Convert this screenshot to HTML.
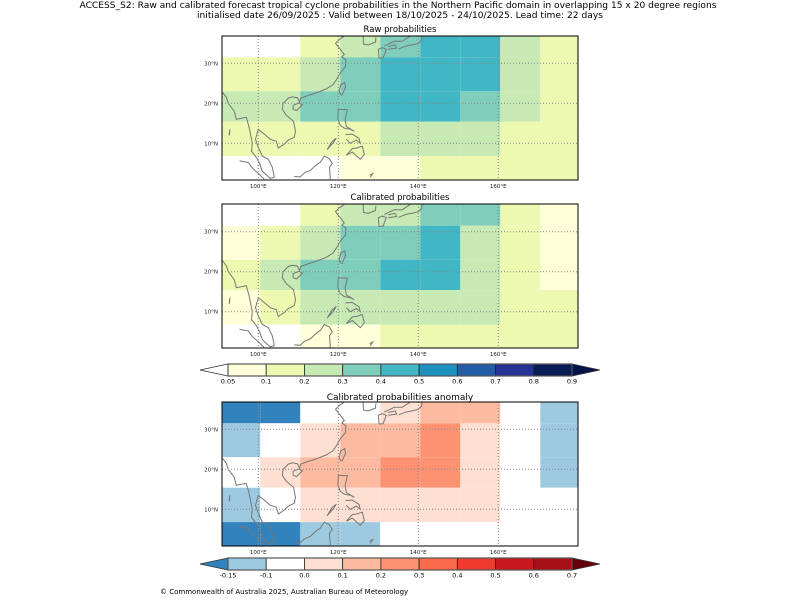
<!DOCTYPE html>
<html><head><meta charset="utf-8"><style>
html,body{margin:0;padding:0;background:#fff;}
svg{display:block;font-family:"DejaVu Sans","Liberation Sans",sans-serif;}
</style></head><body>
<svg id="fig" width="800" height="600" viewBox="0 0 800 600">
<text x="398" y="8" font-size="9" text-anchor="middle" textLength="637" lengthAdjust="spacingAndGlyphs">ACCESS_S2: Raw and calibrated forecast tropical cyclone probabilities in the Northern Pacific domain in overlapping 15 x 20 degree regions</text>
<text x="400" y="18" font-size="9" text-anchor="middle" textLength="406" lengthAdjust="spacingAndGlyphs">initialised date 26/09/2025 :  Valid between 18/10/2025 - 24/10/2025. Lead time: 22 days</text>
<text x="160" y="594" font-size="7">© Commonwealth of Australia 2025, Australian Bureau of Meteorology</text>
<defs>
<clipPath id="c1"><rect x="222" y="36" width="356" height="144"/></clipPath>
<clipPath id="c2"><rect x="222" y="204" width="356" height="144"/></clipPath>
<clipPath id="c3"><rect x="222" y="402" width="356" height="144"/></clipPath>
</defs>
</svg>
<script>
const lonEdges=[91,100.5,110.5,120.5,130.5,140.5,150.5,160.5,170.5,180];
const latEdges=[37,31.5,23,15.4,6.8,0];
const rawValues=[
[0.03,0.03,0.15,0.25,0.35,0.45,0.45,0.25,0.15],
[0.15,0.15,0.25,0.35,0.45,0.45,0.45,0.25,0.15],
[0.25,0.25,0.35,0.35,0.45,0.45,0.35,0.25,0.15],
[0.15,0.15,0.15,0.15,0.25,0.25,0.25,0.15,0.15],
[0.03,0.03,0.03,0.07,0.07,0.15,0.15,0.15,0.15]];
const calValues=[
[0.03,0.03,0.15,0.25,0.25,0.35,0.35,0.15,0.07],
[0.07,0.15,0.25,0.35,0.35,0.45,0.25,0.15,0.07],
[0.15,0.25,0.35,0.35,0.45,0.45,0.25,0.15,0.07],
[0.07,0.15,0.25,0.25,0.25,0.25,0.25,0.15,0.15],
[0.03,0.03,0.07,0.07,0.15,0.15,0.15,0.15,0.15]];
const anomValues=[
[-0.2,-0.2,-0.05,-0.05,0.05,0.15,0.15,-0.05,-0.12],
[-0.12,-0.05,0.05,0.15,0.15,0.25,0.05,-0.05,-0.12],
[-0.05,0.05,0.15,0.15,0.25,0.25,0.05,-0.05,-0.12],
[-0.12,-0.05,0.05,0.05,0.05,0.05,0.05,-0.05,-0.05],
[-0.2,-0.2,-0.12,-0.12,-0.05,-0.05,-0.05,-0.05,-0.05]];
const probLevels=[0.05,0.1,0.2,0.3,0.4,0.5,0.6,0.7,0.8,0.9];
const probLabels=["0.05","0.1","0.2","0.3","0.4","0.5","0.6","0.7","0.8","0.9"];
const probColors=["#ffffff","#ffffd9","#edf8b1","#c7e9b4","#7fcdbb","#41b6c4","#1d91c0","#225ea8","#253494","#081d58","#04124a"];
const anomLevels=[-0.15,-0.1,0,0.1,0.2,0.3,0.4,0.5,0.6,0.7];
const anomLabels=["-0.15","-0.1","0.0","0.1","0.2","0.3","0.4","0.5","0.6","0.7"];
const anomColors=["#3182bd","#9ecae1","#ffffff","#fee0d2","#fcbba1","#fc9272","#fb6a4a","#ef3b2c","#cb181d","#a50f15","#67000d"];
const lonTicks=[100,120,140,160];
const latTicks=[10,20,30];

const svg=document.getElementById('fig');
const NS='http://www.w3.org/2000/svg';
function mk(tag,attrs,parent){const e=document.createElementNS(NS,tag);for(const k in attrs)e.setAttribute(k,attrs[k]);(parent||svg).appendChild(e);return e;}
function colorFor(v,levels,colors){let i=0;while(i<levels.length&&v>=levels[i])i++;return colors[i];}

// rough coastline (lon,lat) — decorative map outline
const coastLines=[
[[91,22.8],[92,21.5],[92.5,20],[94,18],[94.5,16],[97,16.5],[97.7,14],[98.5,10],[98.3,8],[99.5,6.5],[100.3,5],[101,3],[103,1.2],[104,1.5],[103.5,4],[102.5,6],[101,6.8],[100,9],[99.3,11],[100,13.5],[101,12.7],[103,11],[104.5,10.5],[105,8.8],[106.5,9.8],[107.5,10.8],[109,11.5],[109.3,13],[108.8,15.5],[107,17],[106,18.5],[106.2,20],[107.5,21.3],[108.5,21.6],[109.8,21.4],[110.3,20.3],[110.6,21.3],[112,21.8],[113.5,22.3],[115,22.8],[117,23.6],[118.6,24.6],[119.6,26],[120.5,27.6],[121.8,29.2],[121.9,30.9],[120.9,31.6],[121.5,32.2],[120.5,33.5],[119.3,35],[120.3,36],[121.5,36.8]],
[[120.7,22],[120.2,23],[120.6,24.6],[121.6,25.2],[121.8,24],[120.9,22]],
[[108.7,18.5],[109.6,18.2],[111,19.6],[110.2,20.1],[108.7,19.5],[108.7,18.5]],
[[126.2,37],[126.3,34.8],[127.5,34.6],[129.3,35.3],[129.4,36.5]],
[[130.2,31.3],[131.2,31.4],[132,33.5],[131,33.9],[130,33.5],[130.2,31.3]],
[[132.5,33.5],[134.6,33.8],[134.2,34.6],[132.5,34.2]],
[[135.1,33.6],[136.8,34.3],[138.9,34.7],[140,35],[140.8,35.8],[141,37],[139,37.5],[136,35.5],[134,35.5],[131.5,34.3]],
[[120,18.5],[122.3,18.4],[121.7,16],[122,14.2],[124,13],[123,13.5],[121.5,13.8],[120.5,14.5],[119.9,16],[120,18.5]],
[[121.8,12.2],[123.5,12.3],[125.2,11.2],[125.5,10],[124.5,10.8],[123,10],[122,11]],
[[122,7],[123.5,7.8],[125.5,6],[126.5,7.2],[126,9.3],[124.5,8.8],[123.5,8.7],[122,7]],
[[117.2,8.4],[118.8,10.2],[119.5,11.3],[118.5,10.5],[117.2,8.4]],
[[95.3,5.6],[97.5,5.2],[98.5,3.8],[100.3,2.2],[101.5,1]],
[[109,1.7],[110.5,1.6],[111.5,2.6],[113,3.2],[114.5,4.6],[115.5,5.3],[116.5,6.8],[117.7,6.2],[118.5,5],[117.8,4],[118,1]],
[[128,1.5],[128.6,2.4],[127.8,2]],
[[92.8,12],[92.9,13.5],[92.7,12]]
];

function panel(px,py,lat0,values,levels,colors,clip,title,titleY,prefix){
  const xs=lon=>258.3+(lon-100)*4;
  const ys=lat=>lat0-lat*4;
  mk('rect',{x:px,y:py,width:356,height:144,fill:'#fff'});
  const g=mk('g',{'clip-path':'url(#'+clip+')'});
  
  
  for(let r=0;r<values.length;r++)for(let c=0;c<values[r].length;c++){
    const x0=xs(lonEdges[c]),x1=xs(lonEdges[c+1]),y0=ys(latEdges[r]),y1=ys(latEdges[r+1]);
    const rc=mk('rect',{x:x0,y:y0,width:x1-x0,height:y1-y0,fill:colorFor(values[r][c],levels,colors)},g);
    
    
  }
  coastLines.forEach((ln,i)=>{
    const d=ln.map((p,j)=>(j?'L':'M')+xs(p[0]).toFixed(1)+' '+ys(p[1]).toFixed(1)).join(' ');
    const pe=mk('path',{d:d,fill:'none',stroke:'#777','stroke-width':1},g);
    
    
  });
  lonTicks.forEach(lon=>{
    const l=mk('line',{x1:xs(lon),x2:xs(lon),y1:py,y2:py+144,stroke:'#888','stroke-width':1,'stroke-dasharray':'1,2'},g);
    
    
    const t=mk('text',{x:xs(lon),y:py+152,'font-size':5.5,'text-anchor':'middle',fill:'#222'});
    t.textContent=lon+'°E';
    
    
  });
  latTicks.forEach(lat=>{
    const l=mk('line',{x1:px,x2:px+356,y1:ys(lat),y2:ys(lat),stroke:'#888','stroke-width':1,'stroke-dasharray':'1,2'},g);
    
    
    const t=mk('text',{x:218,y:ys(lat)+2,'font-size':5.5,'text-anchor':'end',fill:'#222'});
    t.textContent=lat+'°N';
    
    
  });
  const fr=mk('rect',{x:px,y:py,width:356,height:144,fill:'none',stroke:'#000','stroke-width':1});
  
  
  const tt=mk('text',{x:400,y:titleY,'font-size':title.length>25?9:8.5,'text-anchor':'middle'});
  tt.textContent=title;
  
  
}
panel(222,36,183.3,rawValues,probLevels,probColors,'c1','Raw probabilities',32,'raw');
panel(222,204,351.7,calValues,probLevels,probColors,'c2','Calibrated probabilities',200,'calibrated');
panel(222,402,549.3,anomValues,anomLevels,anomColors,'c3','Calibrated probabilities anomaly',400,'anomaly');

function colorbar(y,h,levels,labels,colors,prefix){
  const x0=228,x1=572,n=levels.length-1,w=(x1-x0)/n;
  const g=mk('g',{});
  
  
  const lt=mk('polygon',{points:`200,${y+h/2} ${x0},${y} ${x0},${y+h}`,fill:colors[0],stroke:'#333','stroke-width':0.8},g);
  
  
  const rt=mk('polygon',{points:`600,${y+h/2} ${x1},${y} ${x1},${y+h}`,fill:colors[colors.length-1],stroke:'#333','stroke-width':0.8},g);
  
  
  for(let i=0;i<n;i++){
    const r=mk('rect',{x:x0+i*w,y:y,width:w,height:h,fill:colors[i+1],stroke:'#222','stroke-width':0.8},g);
    
    
  }
  mk('rect',{x:x0,y:y,width:x1-x0,height:h,fill:'none',stroke:'#555','stroke-width':1.2},g);
  labels.forEach((lb,i)=>{
    const t=mk('text',{x:x0+i*w,y:y+h+7.5,'font-size':6.5,'text-anchor':'middle'},g);
    t.textContent=lb;
    
    
  });
}
colorbar(364,12,probLevels,probLabels,probColors,'probability');
colorbar(558,12,anomLevels,anomLabels,anomColors,'anomaly');
</script>
</body></html>
